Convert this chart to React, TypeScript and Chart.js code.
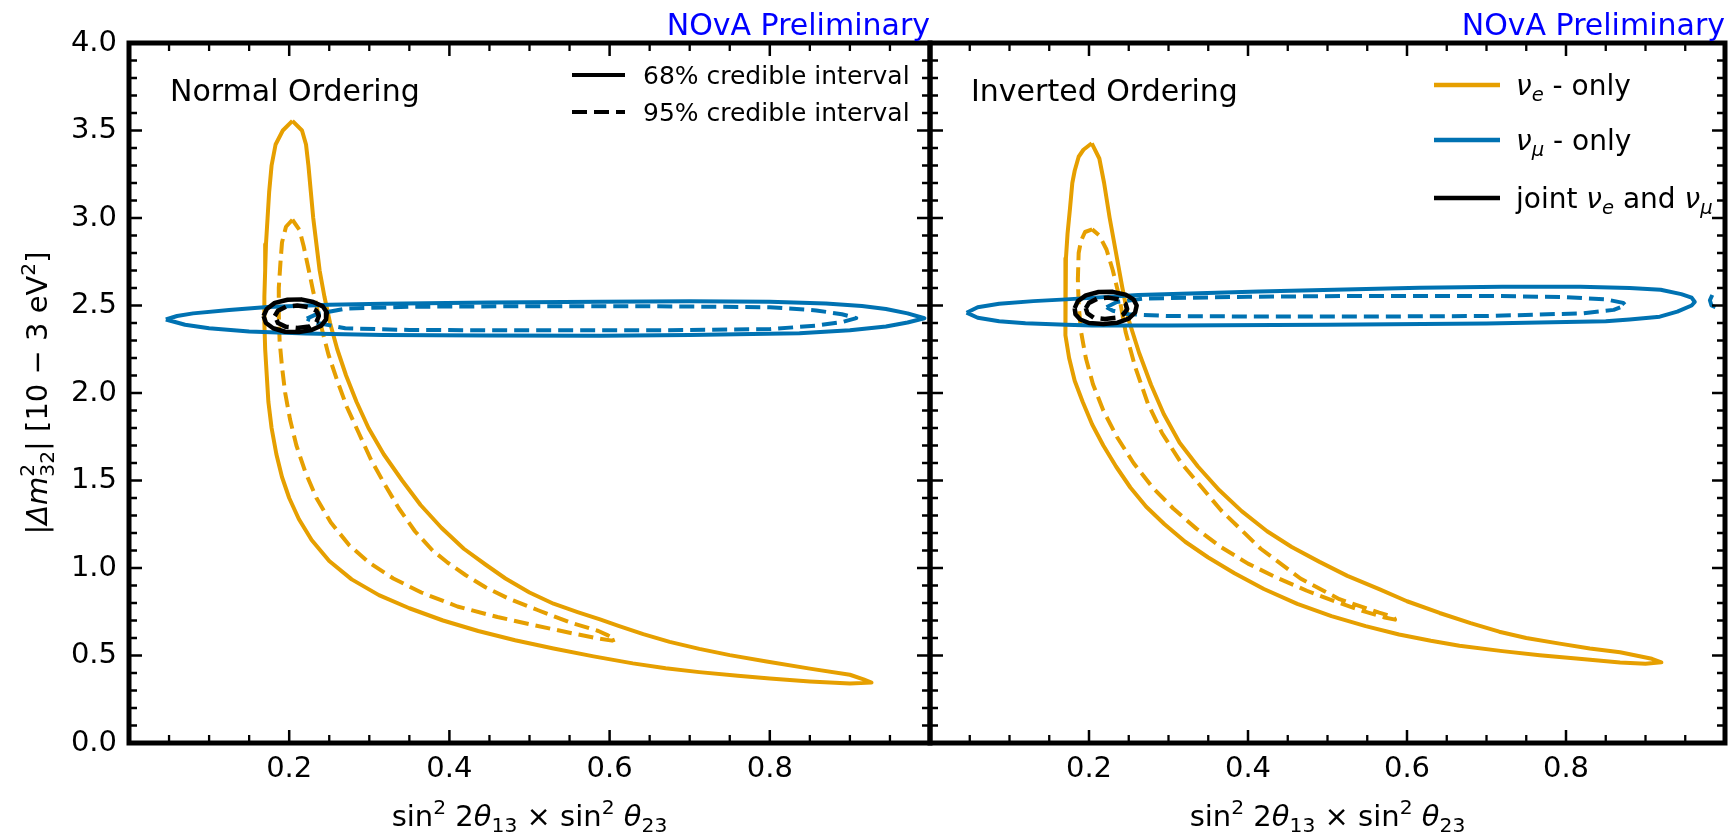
import React, { useEffect, useRef } from 'react';
import { Chart, registerables } from 'chart.js';

Chart.register(...registerables);

// ---------------- data ----------------
type P = [number, number];

// Normal Ordering
const noNue68: P[] = [
  [0.204, 3.555], [0.192, 3.50], [0.183, 3.42], [0.178, 3.30], [0.175, 3.15], [0.173, 3.00], [0.171, 2.85],
  [0.170, 2.70], [0.169, 2.55], [0.169, 2.40], [0.170, 2.25], [0.172, 2.10], [0.174, 1.95], [0.178, 1.80],
  [0.184, 1.65], [0.191, 1.52], [0.200, 1.40], [0.212, 1.28], [0.228, 1.16], [0.250, 1.04], [0.278, 0.935],
  [0.312, 0.845], [0.350, 0.770], [0.392, 0.700], [0.436, 0.640], [0.482, 0.587], [0.530, 0.540], [0.580, 0.495],
  [0.629, 0.455], [0.670, 0.427], [0.712, 0.405], [0.760, 0.384], [0.800, 0.368], [0.850, 0.352], [0.900, 0.340],
  [0.927, 0.345], [0.917, 0.364], [0.900, 0.390], [0.850, 0.425], [0.796, 0.466], [0.750, 0.502], [0.712, 0.538],
  [0.675, 0.578], [0.642, 0.622], [0.612, 0.668], [0.588, 0.706], [0.560, 0.748], [0.530, 0.796], [0.500, 0.860],
  [0.470, 0.940], [0.445, 1.020], [0.418, 1.110], [0.390, 1.230], [0.364, 1.360], [0.341, 1.500], [0.318, 1.650],
  [0.299, 1.800], [0.284, 1.950], [0.271, 2.100], [0.260, 2.250], [0.251, 2.400], [0.244, 2.550], [0.238, 2.700],
  [0.234, 2.850], [0.230, 3.000], [0.227, 3.150], [0.224, 3.300], [0.221, 3.420], [0.216, 3.500], [0.204, 3.555],
];
const noNue95: P[] = [
  [0.204, 2.99], [0.196, 2.95], [0.191, 2.86], [0.189, 2.74], [0.187, 2.60], [0.187, 2.45], [0.188, 2.30],
  [0.191, 2.15], [0.195, 2.00], [0.201, 1.85], [0.209, 1.70], [0.220, 1.55], [0.234, 1.40], [0.252, 1.26],
  [0.275, 1.13], [0.300, 1.03], [0.330, 0.94], [0.365, 0.86], [0.410, 0.78], [0.460, 0.72], [0.506, 0.673],
  [0.550, 0.630], [0.586, 0.597], [0.603, 0.585], [0.607, 0.592], [0.598, 0.615], [0.586, 0.640], [0.550, 0.690],
  [0.510, 0.760], [0.473, 0.827], [0.445, 0.890], [0.420, 0.960], [0.398, 1.030], [0.379, 1.100], [0.357, 1.210],
  [0.337, 1.340], [0.319, 1.480], [0.302, 1.620], [0.287, 1.770], [0.272, 1.920], [0.260, 2.070], [0.249, 2.220],
  [0.240, 2.380], [0.234, 2.500], [0.230, 2.580], [0.225, 2.690], [0.218, 2.840], [0.213, 2.930], [0.204, 2.990],
];
const noNumu68: P[] = [
  [0.046, 2.420], [0.060, 2.440], [0.080, 2.455], [0.125, 2.474], [0.173, 2.492], [0.250, 2.504], [0.317, 2.510],
  [0.450, 2.517], [0.589, 2.522], [0.700, 2.524], [0.800, 2.522], [0.870, 2.512], [0.915, 2.497], [0.945, 2.480],
  [0.972, 2.455], [0.993, 2.427], [0.972, 2.403], [0.945, 2.380], [0.900, 2.358], [0.837, 2.342], [0.700, 2.332],
  [0.589, 2.327], [0.450, 2.328], [0.317, 2.331], [0.221, 2.340], [0.150, 2.352], [0.100, 2.370], [0.070, 2.390],
  [0.046, 2.420],
];
const noNumu95: P[] = [
  [0.222, 2.425], [0.235, 2.452], [0.270, 2.482], [0.350, 2.493], [0.500, 2.496], [0.650, 2.496], [0.800, 2.490],
  [0.858, 2.472], [0.890, 2.450], [0.908, 2.428], [0.890, 2.405], [0.858, 2.385], [0.800, 2.365], [0.650, 2.358],
  [0.500, 2.358], [0.350, 2.360], [0.270, 2.370], [0.235, 2.400], [0.222, 2.425],
];
const noJoint68: P[] = [
  [0.168, 2.440], [0.172, 2.480], [0.182, 2.515], [0.198, 2.533], [0.215, 2.535], [0.230, 2.520], [0.242, 2.495],
  [0.247, 2.460], [0.246, 2.420], [0.240, 2.385], [0.228, 2.360], [0.212, 2.348], [0.195, 2.350], [0.180, 2.370],
  [0.171, 2.400], [0.168, 2.440],
];
const noJoint95: P[] = [
  [0.182, 2.440], [0.186, 2.470], [0.196, 2.493], [0.210, 2.500], [0.225, 2.490], [0.234, 2.470], [0.237, 2.440],
  [0.234, 2.405], [0.225, 2.380], [0.210, 2.372], [0.196, 2.378], [0.186, 2.400], [0.182, 2.440],
];

// Inverted Ordering
const ioNue68: P[] = [
  [0.2035, 3.427], [0.193, 3.39], [0.187, 3.35], [0.182, 3.27], [0.179, 3.20], [0.176, 3.05], [0.173, 2.91],
  [0.171, 2.77], [0.170, 2.63], [0.170, 2.48], [0.171, 2.33], [0.175, 2.20], [0.182, 2.07], [0.192, 1.95],
  [0.204, 1.82], [0.218, 1.70], [0.234, 1.58], [0.252, 1.46], [0.272, 1.35], [0.295, 1.25], [0.321, 1.15],
  [0.350, 1.06], [0.383, 0.970], [0.420, 0.880], [0.462, 0.795], [0.505, 0.725], [0.548, 0.668], [0.590, 0.620],
  [0.630, 0.584], [0.666, 0.556], [0.720, 0.525], [0.767, 0.502], [0.820, 0.480], [0.868, 0.460], [0.900, 0.453],
  [0.920, 0.461], [0.908, 0.481], [0.868, 0.519], [0.830, 0.540], [0.792, 0.568], [0.750, 0.600], [0.716, 0.636],
  [0.680, 0.685], [0.641, 0.743], [0.600, 0.810], [0.565, 0.879], [0.525, 0.955], [0.490, 1.035], [0.455, 1.120],
  [0.424, 1.210], [0.392, 1.325], [0.364, 1.444], [0.337, 1.580], [0.314, 1.716], [0.294, 1.880], [0.278, 2.047],
  [0.263, 2.230], [0.250, 2.416], [0.242, 2.600], [0.234, 2.800], [0.226, 3.000], [0.219, 3.200], [0.213, 3.340],
  [0.2035, 3.427],
];
const ioNue95: P[] = [
  [0.204, 2.935], [0.195, 2.920], [0.190, 2.870], [0.187, 2.800], [0.186, 2.650], [0.187, 2.500], [0.190, 2.350],
  [0.196, 2.200], [0.205, 2.050], [0.218, 1.900], [0.235, 1.750], [0.256, 1.600], [0.280, 1.460], [0.306, 1.340],
  [0.335, 1.225], [0.366, 1.120], [0.400, 1.025], [0.436, 0.945], [0.474, 0.870], [0.512, 0.805], [0.546, 0.752],
  [0.572, 0.717], [0.585, 0.705], [0.583, 0.720], [0.565, 0.745], [0.515, 0.822], [0.466, 0.940], [0.416, 1.110],
  [0.366, 1.330], [0.316, 1.600], [0.292, 1.770], [0.274, 1.940], [0.258, 2.150], [0.246, 2.350], [0.238, 2.550],
  [0.230, 2.700], [0.222, 2.820], [0.213, 2.900], [0.204, 2.935],
];
const ioNumu68: P[] = [
  [0.046, 2.459], [0.060, 2.490], [0.087, 2.510], [0.130, 2.525], [0.171, 2.535], [0.262, 2.560], [0.414, 2.580],
  [0.616, 2.602], [0.720, 2.607], [0.818, 2.607], [0.880, 2.600], [0.919, 2.590], [0.945, 2.565], [0.958, 2.545],
  [0.962, 2.520], [0.958, 2.500], [0.940, 2.465], [0.918, 2.436], [0.880, 2.420], [0.850, 2.410], [0.700, 2.397],
  [0.500, 2.390], [0.300, 2.386], [0.204, 2.386], [0.171, 2.390], [0.120, 2.398], [0.087, 2.410], [0.060, 2.430],
  [0.046, 2.459],
];
const ioNumuEdge: P[] = [[0.984, 2.560], [0.981, 2.530], [0.983, 2.500], [0.988, 2.490]];
const ioNumu95: P[] = [
  [0.222, 2.490], [0.235, 2.520], [0.270, 2.540], [0.400, 2.550], [0.550, 2.555], [0.700, 2.555], [0.800, 2.548],
  [0.850, 2.535], [0.872, 2.515], [0.875, 2.500], [0.860, 2.475], [0.820, 2.455], [0.700, 2.440], [0.550, 2.437],
  [0.400, 2.437], [0.300, 2.440], [0.250, 2.450], [0.230, 2.470], [0.222, 2.490],
];
const ioJoint68: P[] = [
  [0.182, 2.485], [0.186, 2.525], [0.196, 2.558], [0.212, 2.577], [0.230, 2.578], [0.246, 2.562], [0.256, 2.535],
  [0.260, 2.500], [0.258, 2.460], [0.250, 2.425], [0.236, 2.402], [0.218, 2.394], [0.200, 2.400], [0.189, 2.420],
  [0.183, 2.450], [0.182, 2.485],
];
const ioJoint95: P[] = [
  [0.196, 2.485], [0.200, 2.515], [0.210, 2.538], [0.224, 2.545], [0.238, 2.535], [0.246, 2.510], [0.248, 2.480],
  [0.244, 2.452], [0.234, 2.430], [0.220, 2.423], [0.206, 2.430], [0.198, 2.455], [0.196, 2.485],
];

// axes
const X_MIN = 0, X_MAX = 1, Y_MIN = 0, Y_MAX = 4;
const X_MAJOR_TICKS = [0.2, 0.4, 0.6, 0.8];
const X_MINOR_TICKS = [0.05, 0.1, 0.15, 0.25, 0.3, 0.35, 0.45, 0.5, 0.55, 0.65, 0.7, 0.75, 0.85, 0.9, 0.95];
const Y_MAJOR_TICKS = [0.5, 1.0, 1.5, 2.0, 2.5, 3.0, 3.5];
const Y_MINOR_TICKS = [0.1, 0.2, 0.3, 0.4, 0.6, 0.7, 0.8, 0.9, 1.1, 1.2, 1.3, 1.4, 1.6, 1.7, 1.8, 1.9, 2.1, 2.2, 2.3, 2.4,
  2.6, 2.7, 2.8, 2.9, 3.1, 3.2, 3.3, 3.4, 3.6, 3.7, 3.8, 3.9];

const PANEL_TITLES = { NO: 'Normal Ordering', IO: 'Inverted Ordering' };
const WATERMARK = 'NOvA Preliminary';
const CI_LABELS = ['68% credible interval', '95% credible interval'];

const ORANGE = '#E69F00';
const BLUE = '#0072B2';
const BLACK = '#000000';
const FONT = "'DejaVu Sans', 'Liberation Sans', sans-serif";

// ---------------- rich text helper ----------------
type Seg = { t?: string; it?: boolean; sup?: boolean; sub?: boolean; stack?: [string, string] };
const fnt = (size: number, it?: boolean) => `${it ? 'italic ' : ''}${size}px ${FONT}`;

function segWidth(ctx: CanvasRenderingContext2D, s: Seg, size: number) {
  if (s.stack) {
    ctx.font = fnt(size * 0.7, false);
    return Math.max(ctx.measureText(s.stack[0]).width, ctx.measureText(s.stack[1]).width);
  }
  ctx.font = fnt(s.sup || s.sub ? size * 0.7 : size, s.it);
  return ctx.measureText(s.t || '').width;
}

function drawRich(ctx: CanvasRenderingContext2D, segs: Seg[], x: number, y: number, size: number,
  align: 'left' | 'center' | 'right', color: string) {
  const widths = segs.map((s) => segWidth(ctx, s, size));
  const total = widths.reduce((a, b) => a + b, 0);
  let cx = align === 'left' ? x : align === 'center' ? x - total / 2 : x - total;
  ctx.fillStyle = color;
  ctx.textAlign = 'left';
  ctx.textBaseline = 'alphabetic';
  segs.forEach((s, i) => {
    if (s.stack) {
      ctx.font = fnt(size * 0.7, false);
      ctx.fillText(s.stack[0], cx, y - size * 0.45);
      ctx.fillText(s.stack[1], cx, y + size * 0.25);
    } else if (s.sup) {
      ctx.font = fnt(size * 0.7, s.it);
      ctx.fillText(s.t || '', cx, y - size * 0.42);
    } else if (s.sub) {
      ctx.font = fnt(size * 0.7, s.it);
      ctx.fillText(s.t || '', cx, y + size * 0.22);
    } else {
      ctx.font = fnt(size, s.it);
      ctx.fillText(s.t || '', cx, y);
    }
    cx += widths[i];
  });
}

const X_TITLE: Seg[] = [
  { t: 'sin' }, { t: '2', sup: true }, { t: ' 2' }, { t: 'θ', it: true }, { t: '13', sub: true },
  { t: ' × sin' }, { t: '2', sup: true }, { t: ' ' }, { t: 'θ', it: true }, { t: '23', sub: true },
];
const Y_TITLE: Seg[] = [
  { t: '|' }, { t: 'Δm', it: true }, { stack: ['2', '32'] }, { t: '| [10 − 3 eV' }, { t: '2', sup: true }, { t: ']' },
];
const FLAVOUR_LEGEND: { color: string; segs: Seg[] }[] = [
  { color: ORANGE, segs: [{ t: 'ν', it: true }, { t: 'e', it: true, sub: true }, { t: ' - only' }] },
  { color: BLUE, segs: [{ t: 'ν', it: true }, { t: 'μ', it: true, sub: true }, { t: ' - only' }] },
  {
    color: BLACK,
    segs: [{ t: 'joint ' }, { t: 'ν', it: true }, { t: 'e', it: true, sub: true }, { t: ' and ' },
      { t: 'ν', it: true }, { t: 'μ', it: true, sub: true }],
  },
];

// ---------------- chart config ----------------
const DASH = [15, 7];

function ds(label: string, pts: P[], color: string, dashed: boolean, width: number, order: number) {
  return {
    label,
    data: pts.map(([x, y]) => ({ x, y })),
    showLine: true,
    borderColor: color,
    backgroundColor: color,
    borderWidth: width,
    borderDash: dashed ? DASH : [],
    borderJoinStyle: 'round',
    pointRadius: 0,
    pointHoverRadius: 0,
    fill: false,
    tension: 0,
    order,
  };
}

function decorPlugin(panel: 'NO' | 'IO') {
  return {
    id: 'decor' + panel,
    afterDraw(chart: any) {
      const { ctx, chartArea: a, scales } = chart;
      const xs = scales.x;
      const ys = scales.y;
      ctx.save();
      ctx.strokeStyle = '#000';
      ctx.lineCap = 'butt';
      const tick = (vals: number[], len: number, w: number) => {
        ctx.lineWidth = w;
        ctx.beginPath();
        vals.forEach((v) => {
          const px = xs.getPixelForValue(v);
          ctx.moveTo(px, a.bottom); ctx.lineTo(px, a.bottom - len);
          ctx.moveTo(px, a.top); ctx.lineTo(px, a.top + len);
        });
        ctx.stroke();
      };
      const ytick = (vals: number[], len: number, w: number) => {
        ctx.lineWidth = w;
        ctx.beginPath();
        vals.forEach((v) => {
          const py = ys.getPixelForValue(v);
          ctx.moveTo(a.left, py); ctx.lineTo(a.left + len, py);
          ctx.moveTo(a.right, py); ctx.lineTo(a.right - len, py);
        });
        ctx.stroke();
      };
      tick(X_MAJOR_TICKS, 13, 2.5);
      tick(X_MINOR_TICKS, 8, 2.3);
      ytick(Y_MAJOR_TICKS, 13, 2.5);
      ytick(Y_MINOR_TICKS, 8, 2.3);
      ctx.lineWidth = 5;
      ctx.lineJoin = 'miter';
      ctx.strokeRect(a.left, a.top, a.right - a.left, a.bottom - a.top);

      ctx.font = fnt(30);
      ctx.fillStyle = '#0000FF';
      ctx.textAlign = 'right';
      ctx.textBaseline = 'alphabetic';
      ctx.fillText(WATERMARK, a.right, a.top - 8);

      ctx.fillStyle = '#000';
      ctx.textAlign = 'left';
      ctx.fillText(PANEL_TITLES[panel], a.left + 41, a.top + 58);

      drawRich(ctx, X_TITLE, (a.left + a.right) / 2, a.bottom + 83, 29, 'center', '#000');

      if (panel === 'NO') {
        ctx.save();
        ctx.translate(47, (a.top + a.bottom) / 2);
        ctx.rotate(-Math.PI / 2);
        drawRich(ctx, Y_TITLE, 0, 0, 29, 'center', '#000');
        ctx.restore();
        const rows = [a.top + 32, a.top + 69];
        rows.forEach((ry, i) => {
          ctx.strokeStyle = '#000';
          ctx.lineWidth = 4;
          ctx.setLineDash(i === 0 ? [] : DASH);
          ctx.beginPath();
          ctx.moveTo(a.left + 443, ry);
          ctx.lineTo(a.left + 496, ry);
          ctx.stroke();
          ctx.setLineDash([]);
          ctx.font = fnt(25);
          ctx.fillStyle = '#000';
          ctx.textAlign = 'left';
          ctx.fillText(CI_LABELS[i], a.left + 514, ry + 9);
        });
      } else {
        const rows = [a.top + 42, a.top + 97, a.top + 155];
        FLAVOUR_LEGEND.forEach((item, i) => {
          const ry = rows[i];
          ctx.strokeStyle = item.color;
          ctx.lineWidth = 4.5;
          ctx.beginPath();
          ctx.moveTo(a.left + 504, ry);
          ctx.lineTo(a.left + 570, ry);
          ctx.stroke();
          drawRich(ctx, item.segs, a.left + 586, ry + 10, 28, 'left', '#000');
        });
      }
      ctx.restore();
    },
  };
}

function makeConfig(panel: 'NO' | 'IO'): any {
  const isNO = panel === 'NO';
  const datasets = isNO
    ? [
      ds('joint 68%', noJoint68, BLACK, false, 4.5, 0),
      ds('joint 95%', noJoint95, BLACK, true, 4.5, 0),
      ds('numu 68%', noNumu68, BLUE, false, 4, 1),
      ds('numu 95%', noNumu95, BLUE, true, 4, 1),
      ds('nue 68%', noNue68, ORANGE, false, 4, 2),
      ds('nue 95%', noNue95, ORANGE, true, 4, 2),
    ]
    : [
      ds('joint 68%', ioJoint68, BLACK, false, 4.5, 0),
      ds('joint 95%', ioJoint95, BLACK, true, 4.5, 0),
      ds('numu 68%', ioNumu68, BLUE, false, 4, 1),
      ds('numu 68% edge', ioNumuEdge, BLUE, false, 4, 1),
      ds('numu 95%', ioNumu95, BLUE, true, 4, 1),
      ds('nue 68%', ioNue68, ORANGE, false, 4, 2),
      ds('nue 95%', ioNue95, ORANGE, true, 4, 2),
    ];
  return {
    type: 'scatter',
    data: { datasets },
    options: {
      animation: false,
      responsive: false,
      devicePixelRatio: 1,
      events: [],
      layout: { autoPadding: false, padding: isNO ? { left: 0, right: 10, top: 43, bottom: 0 } : { left: 10, right: 3, top: 43, bottom: 0 } },
      plugins: { legend: { display: false }, tooltip: { enabled: false }, title: { display: false } },
      scales: {
        x: {
          type: 'linear',
          min: X_MIN,
          max: X_MAX,
          grid: { display: false, drawTicks: false },
          border: { display: false },
          ticks: {
            stepSize: 0.2,
            autoSkip: false,
            maxRotation: 0,
            padding: 9,
            color: '#000',
            font: { family: FONT, size: 29 },
            callback: (v: number) => (v > 0.01 && v < 0.99 ? Number(v).toFixed(1) : ''),
          },
          afterFit: (s: any) => { s.height = 92; },
        },
        y: {
          type: 'linear',
          min: Y_MIN,
          max: Y_MAX,
          display: isNO,
          grid: { display: false, drawTicks: false },
          border: { display: false },
          ticks: {
            stepSize: 0.5,
            autoSkip: false,
            padding: 12,
            color: '#000',
            font: { family: FONT, size: 29 },
            callback: (v: number) => Number(v).toFixed(1),
          },
          afterFit: (s: any) => { s.width = isNO ? 129 : 0; },
        },
      },
    },
    plugins: [decorPlugin(panel)],
  };
}

export default function App() {
  const leftRef = useRef<HTMLCanvasElement>(null);
  const rightRef = useRef<HTMLCanvasElement>(null);
  useEffect(() => {
    const c1 = new Chart(leftRef.current as HTMLCanvasElement, makeConfig('NO'));
    const c2 = new Chart(rightRef.current as HTMLCanvasElement, makeConfig('IO'));
    return () => {
      c1.destroy();
      c2.destroy();
    };
  }, []);
  return (
    <div style={{ position: 'absolute', left: 0, top: 0, width: 1734, height: 835, background: '#fff', overflow: 'hidden' }}>
      <canvas ref={leftRef} width={940} height={835} style={{ position: 'absolute', left: 0, top: 0 }} />
      <canvas ref={rightRef} width={814} height={835} style={{ position: 'absolute', left: 920, top: 0 }} />
    </div>
  );
}
